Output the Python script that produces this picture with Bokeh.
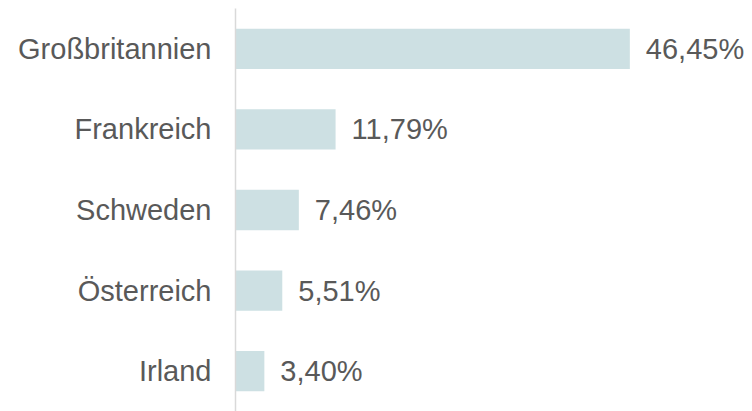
from bokeh.plotting import figure
from bokeh.models import ColumnDataSource, FactorRange, Range1d
from bokeh.embed import file_html
from bokeh.resources import INLINE
from bokeh.core.properties import value

countries = ["Großbritannien", "Frankreich", "Schweden", "Österreich", "Irland"]
shares = [46.45, 11.79, 7.46, 5.51, 3.40]
labels = [f"{v:.2f}".replace(".", ",") + "%" for v in shares]

src = ColumnDataSource(dict(country=countries, share=shares, label=labels))

p = figure(width=752, height=411, output_backend="svg", toolbar_location=None,
           y_range=FactorRange(factors=list(reversed(countries))),
           x_range=Range1d(0, 60.9),
           min_border_left=235, min_border_right=0, min_border_top=8, min_border_bottom=0)

p.hbar(y="country", right="share", left=0, height=0.5, source=src,
       fill_color="#cde0e3", line_color=None)

p.text(x="share", y="country", text="label", source=src, x_offset=16,
       text_align="left", text_baseline="middle", text_color="#595959",
       text_font=value("Liberation Sans"), text_font_size="29px")

p.xaxis.visible = False
p.xgrid.visible = False
p.ygrid.visible = False
p.outline_line_color = None
p.background_fill_color = "white"
p.border_fill_color = "white"

ax = p.yaxis[0]
ax.axis_line_color = "#d9d9d9"
ax.axis_line_width = 1.5
ax.major_tick_line_color = None
ax.minor_tick_line_color = None
ax.major_tick_out = 0
ax.major_label_standoff = 24
ax.major_label_text_font = "Liberation Sans"
ax.major_label_text_font_size = "29px"
ax.major_label_text_color = "#595959"

open("out.html", "w").write(file_html(p, INLINE))
